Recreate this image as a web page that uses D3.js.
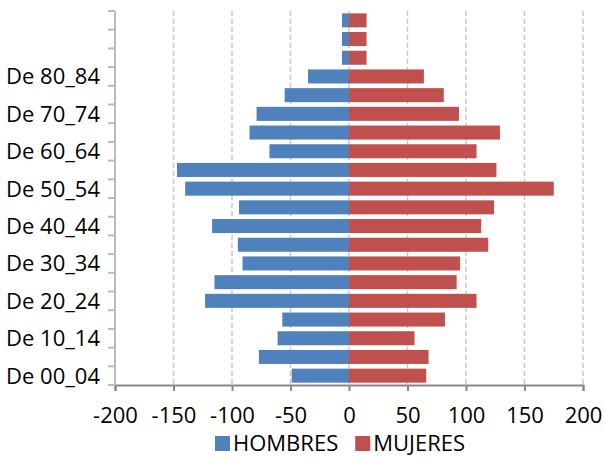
<!DOCTYPE html>
<html>
<head>
<meta charset="utf-8">
<script src="https://cdn.jsdelivr.net/npm/d3@7"></script>
<style>
  body { margin: 0; background: #fff; }
  text { font-family: "Open Sans", sans-serif; fill: #000; }
</style>
</head>
<body>
<svg id="chart" width="605" height="458"></svg>
<script>
// age groups, bottom to top
const groups = ["De 00_04", "De 05_09", "De 10_14", "De 15_19", "De 20_24", "De 25_29",
    "De 30_34", "De 35_39", "De 40_44", "De 45_49", "De 50_54", "De 55_59",
    "De 60_64", "De 65_69", "De 70_74", "De 75_79", "De 80_84", "De 85_89",
    "De 90_94", "De 95_99"];
// only these show on the axis
const shownLabels = ["De 00_04", "De 10_14", "De 20_24", "De 30_34", "De 40_44",
    "De 50_54", "De 60_64", "De 70_74", "De 80_84"];
const hombres = [-49, -77, -61, -57, -123, -115, -91, -95, -117, -94, -140, -147,
    -68, -85, -79, -55, -35, -6, -6, -6];
const mujeres = [66, 68, 56, 82, 109, 92, 95, 119, 113, 124, 175, 126,
    109, 129, 94, 81, 64, 15, 15, 15];
const xTicks = [-200, -150, -100, -50, 0, 50, 100, 150, 200];
const series = [
    { name: "HOMBRES", values: hombres, color: "#4F81BD" },
    { name: "MUJERES", values: mujeres, color: "#C0504D" }
];

const svg = d3.select("#chart");
const margin = { top: 11, right: 22, bottom: 73, left: 115 };
const width = 605, height = 458;

const x = d3.scaleLinear().domain([-200, 200]).range([margin.left, width - margin.right]);
const y = d3.scaleBand().domain(groups).range([height - margin.bottom, margin.top]).paddingInner(0.25).paddingOuter(0.125);

// dashed gridlines
svg.append("g")
    .selectAll("line")
    .data(xTicks.filter(d => d !== -200))
    .join("line")
    .attr("x1", d => x(d)).attr("x2", d => x(d))
    .attr("y1", margin.top).attr("y2", height - margin.bottom)
    .attr("stroke", "#c8c8c8")
    .attr("stroke-width", 1.5)
    .attr("stroke-dasharray", "5,3");

// bars
series.forEach(s => {
    svg.append("g")
        .selectAll("rect")
        .data(groups)
        .join("rect")
        .attr("x", (d, i) => x(Math.min(0, s.values[i])))
        .attr("width", (d, i) => Math.abs(x(s.values[i]) - x(0)))
        .attr("y", d => y(d))
        .attr("height", y.bandwidth())
        .attr("fill", s.color);
});

// bottom axis
const xAxis = svg.append("g")
    .attr("transform", `translate(0,${height - margin.bottom})`)
    .call(d3.axisBottom(x).tickValues(xTicks).tickSize(6).tickPadding(16).tickFormat(d => d));
xAxis.select(".domain").attr("stroke", "#888").attr("stroke-width", 2);
xAxis.selectAll(".tick line").attr("stroke", "#888").attr("stroke-width", 2);
xAxis.selectAll("text").style("font-size", "22px").attr("fill", "#000");

// left axis: ticks between categories
const bounds = d3.range(groups.length + 1).map(i => height - margin.bottom - i * (height - margin.bottom - margin.top) / groups.length);
svg.append("line")
    .attr("x1", margin.left).attr("x2", margin.left)
    .attr("y1", margin.top).attr("y2", height - margin.bottom)
    .attr("stroke", "#bbb").attr("stroke-width", 2);
svg.append("g")
    .selectAll("line")
    .data(bounds)
    .join("line")
    .attr("x1", margin.left - 7).attr("x2", margin.left)
    .attr("y1", d => d).attr("y2", d => d)
    .attr("stroke", "#bbb").attr("stroke-width", 2);
svg.append("g")
    .selectAll("text")
    .data(shownLabels)
    .join("text")
    .attr("x", margin.left - 15)
    .attr("y", d => y(d) + y.bandwidth() / 2)
    .attr("dy", "0.36em")
    .attr("text-anchor", "end")
    .style("font-size", "22px")
    .text(d => d);

// legend
const legend = svg.append("g").attr("transform", "translate(215,436)");
let lx = 0;
series.forEach(s => {
    const g = legend.append("g").attr("transform", `translate(${lx},0)`);
    g.append("rect").attr("width", 15).attr("height", 15).attr("fill", s.color);
    const t = g.append("text").attr("x", 18).attr("y", 15)
        .style("font-size", "22px").text(s.name);
    lx += 18 + t.node().getComputedTextLength() + 17;
});
</script>
</body>
</html>
